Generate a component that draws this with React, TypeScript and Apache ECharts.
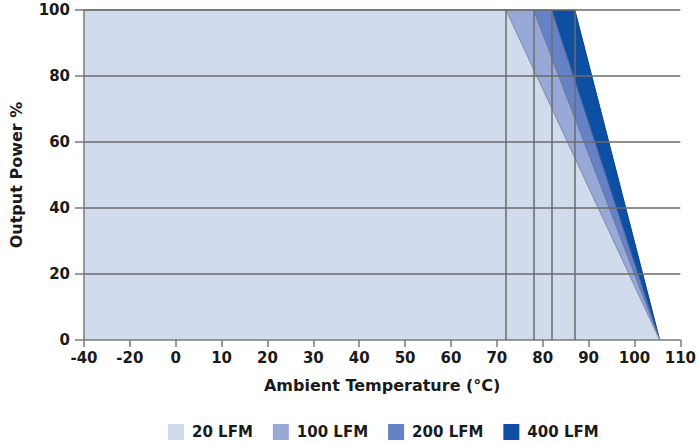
import React, { useEffect, useRef } from "react";
import * as echarts from "echarts";

// Airflow curves (legend order)
const seriesNames = ["20 LFM", "100 LFM", "200 LFM", "400 LFM"];
// Temperature (°C) at which each curve starts derating from 100 %
const kneeTemps = [72, 78, 82, 87];
// Temperature (°C) at which output reaches 0 %
const zeroTemp = 105.5;
// Lowest operating temperature shown
const startTemp = -40;
const fullPower = 100;
// Tick labels on the temperature axis
const xTickLabels = [-40, -20, 0, 10, 20, 30, 40, 50, 60, 70, 80, 90, 100, 110];
const yTickLabels = [0, 20, 40, 60, 80, 100];
// Horizontal grid lines (drawn above the areas, as in the original)
const gridLevels = [20, 40, 60, 80, 100];

const fillColors = ["#d0dbee", "#98a9d8", "#6482c5", "#0c4fa3"];
const edgeColors = ["#7d8aa3", "#65769f", "#435f9e", "#0a3f85"];

// The original axis compresses the negative range (-40..0 spans two ticks of 20)
const toAxis = (t: number) => (t < 0 ? t / 2 : t);
const fromAxis = (v: number) => (v < 0 ? v * 2 : v);

const FONT = "DejaVu Sans";

export default function App() {
  const ref = useRef<HTMLDivElement>(null);
  useEffect(() => {
    if (!ref.current) return;
    const chart = echarts.init(ref.current, undefined, { renderer: "svg" });

    const order = [3, 2, 1, 0]; // draw widest area first
    const series: any[] = order.map((i) => ({
      name: seriesNames[i],
      type: "line",
      symbol: "none",
      showSymbol: false,
      silent: true,
      z: 1 + (3 - i),
      data: [
        [toAxis(startTemp), fullPower],
        [toAxis(kneeTemps[i]), fullPower],
        [toAxis(zeroTemp), 0],
      ],
      itemStyle: { color: fillColors[i] },
      lineStyle: { color: edgeColors[i], width: 1 },
      areaStyle: { color: fillColors[i], opacity: 1 },
    }));

    // guide lines on top of the areas
    series.push({
      name: "guides",
      type: "line",
      data: [],
      silent: true,
      z: 10,
      markLine: {
        silent: true,
        z: 10,
        symbol: "none",
        label: { show: false },
        lineStyle: { color: "#6b6b6b", width: 1.5, type: "solid" },
        data: [
          ...kneeTemps.map((k) => ({ xAxis: toAxis(k) })),
          ...gridLevels.map((g) => ({ yAxis: g })),
        ],
      },
    });

    chart.setOption({
      animation: false,
      backgroundColor: "#ffffff",
      grid: { left: 82, right: 16, top: 10, bottom: 104 },
      legend: {
        top: 419,
        left: 163,
        icon: "rect",
        itemWidth: 16,
        itemHeight: 16,
        itemGap: 20,
        textStyle: {
          fontFamily: FONT,
          fontWeight: "bold",
          fontSize: 15,
          color: "#1a1a1a",
          padding: [0, 0, 0, 3],
        },
        data: seriesNames.map((n, i) => ({
          name: n,
          itemStyle: { color: fillColors[i], borderWidth: 0 },
        })),
      },
      xAxis: {
        type: "value",
        min: toAxis(xTickLabels[0]),
        max: toAxis(xTickLabels[xTickLabels.length - 1]),
        interval: 10,
        z: 6,
        name: "Ambient Temperature (°C)",
        nameLocation: "middle",
        nameGap: 37,
        nameTextStyle: {
          fontFamily: FONT,
          fontWeight: "bold",
          fontSize: 16,
          color: "#1a1a1a",
        },
        axisLine: { show: true, onZero: false, lineStyle: { color: "#7a7a7a", width: 1.5 } },
        axisTick: { show: true, length: 7, lineStyle: { color: "#7a7a7a", width: 1.5 } },
        axisLabel: {
          margin: 10,
          fontFamily: FONT,
          fontWeight: "bold",
          fontSize: 15,
          color: "#1a1a1a",
          formatter: (v: number) => String(fromAxis(v)),
        },
        splitLine: { show: false },
      },
      yAxis: {
        type: "value",
        min: yTickLabels[0],
        max: yTickLabels[yTickLabels.length - 1],
        interval: 20,
        z: 6,
        name: "Output Power %",
        nameLocation: "middle",
        nameGap: 60,
        nameTextStyle: {
          fontFamily: FONT,
          fontWeight: "bold",
          fontSize: 16,
          color: "#1a1a1a",
        },
        axisLine: { show: true, onZero: false, lineStyle: { color: "#7a7a7a", width: 1.5 } },
        axisTick: { show: true, length: 9, lineStyle: { color: "#7a7a7a", width: 1.5 } },
        axisLabel: {
          margin: 14,
          fontFamily: FONT,
          fontWeight: "bold",
          fontSize: 15,
          color: "#1a1a1a",
        },
        splitLine: { show: false },
      },
      series,
    });
    return () => chart.dispose();
  }, []);
  return (
    <div
      ref={ref}
      style={{ position: "absolute", left: 0, top: 0, width: 699, height: 444 }}
    />
  );
}
